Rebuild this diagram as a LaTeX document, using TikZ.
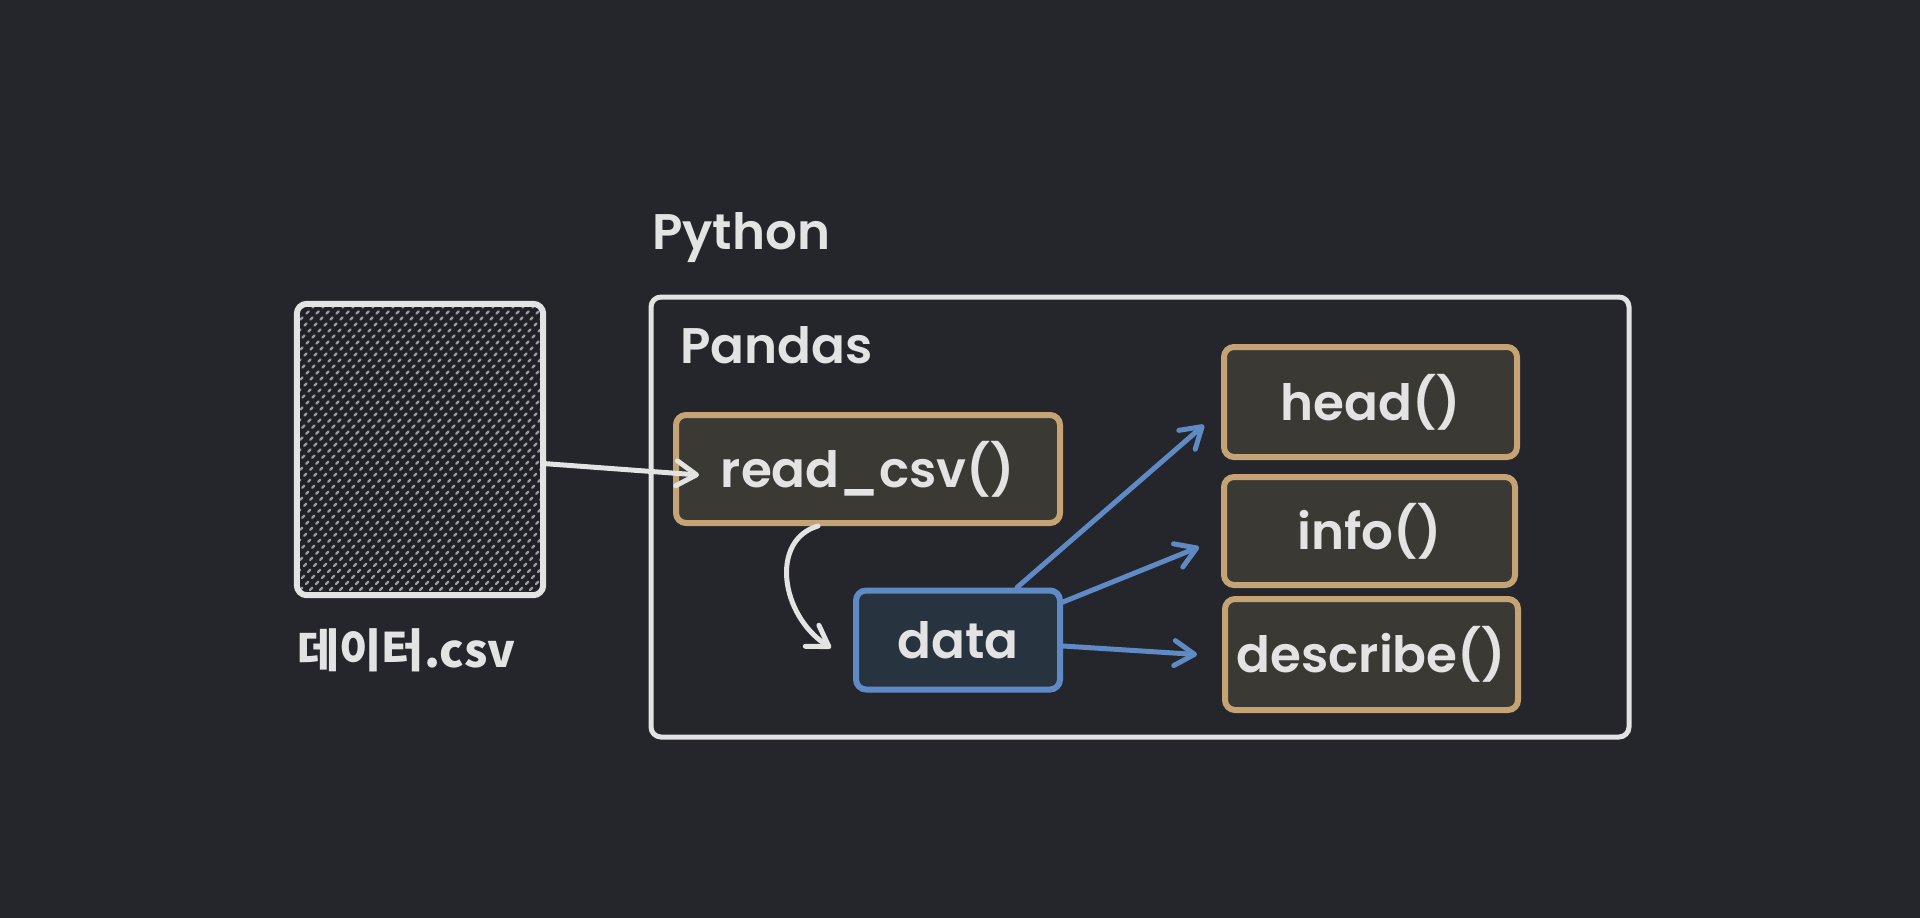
\documentclass[tikz,border=0pt]{standalone}
\usepackage{fontspec}
\setmainfont{Poppins}[BoldFont={Poppins SemiBold}]
\newfontfamily\krfont{Noto Sans CJK KR}
\usetikzlibrary{arrows.meta,calc,positioning}
\definecolor{bgdark}{HTML}{25262B}
\definecolor{ink}{HTML}{E3E3E3}
\definecolor{tanline}{HTML}{C6A374}
\definecolor{fnfill}{HTML}{3B3934}
\definecolor{blueline}{HTML}{5F8AC6}
\definecolor{datafill}{HTML}{283340}
\definecolor{filefill}{HTML}{202127}
\definecolor{hatchc}{HTML}{9A9B9E}

\tikzset{
  lbl/.style={text=ink, inner sep=0pt, font=\bfseries\fontsize{50}{56}\selectfont},
  fnbox/.style={draw=tanline, fill=fnfill, line width=6pt, rounded corners=10pt,
    inner sep=0pt, text=ink, font=\bfseries\fontsize{50}{56}\selectfont},
  databox/.style={fnbox, draw=blueline, fill=datafill},
  envbox/.style={draw=ink, line width=5pt, rounded corners=10pt, inner sep=0pt},
  flow/.style={draw=ink, line width=5pt, line cap=round,
    -{Straight Barb[length=20pt, width=25pt, round]}},
  flowb/.style={flow, draw=blueline}
}

\begin{document}
\begin{tikzpicture}[x=1pt, y=-1pt]
  \useasboundingbox[fill=bgdark] (0,0) rectangle (1920,918);

  % the csv file
  \node[fill=filefill, rounded corners=10pt, minimum width=246pt, minimum height=291pt] (csv) at (420,449.5) {};
  \begin{scope}
    \clip[rounded corners=8pt] (csv.south west) rectangle (csv.north east);
    \foreach \c in {-40,-30,...,560}
      \draw[hatchc, line width=2.4pt, line cap=round, dash pattern=on 3pt off 5.5pt] (\c,620) -- ++(360,-360);
  \end{scope}
  \draw[ink, line width=6pt, rounded corners=10pt] (csv.south west) rectangle (csv.north east);
  \node[lbl, anchor=base west, font=\krfont\bfseries\fontsize{46}{52}\selectfont] (csvname) at (297,667) {데이터.csv};

  % python / pandas
  \node[lbl, anchor=base west] (python) at (652,249) {Python};
  \node[envbox, minimum width=978pt, minimum height=440pt] (pandasenv) at (1140,517) {};
  \node[lbl, anchor=base west] (pandas) at (680,363) {Pandas};

  \node[fnbox, minimum width=384pt, minimum height=108pt] (read) at (868,469) {read\_csv()};
  \node[databox, minimum width=204pt, minimum height=99pt] (data) at (958,640) {data};
  \node[fnbox, minimum width=293pt, minimum height=110pt] (head) at (1370.5,402) {head()};
  \node[fnbox, minimum width=291pt, minimum height=108pt] (info) at (1369.5,531) {info()};
  \node[fnbox, minimum width=293pt, minimum height=111pt] (describe) at (1371.5,654.5) {describe()};

  % connectors
  \draw[flow] ($(csv.east)+(0,14)$) -- ($(read.west)+(26,6)$);
  \draw[flow] ($(read.south)+(-50,0)$) .. controls (770,540) and (780,615) .. ($(data.west)+(-22,8)$);
  \draw[flowb] ($(data.north)+(59,0)$) -- ($(head.west)+(-17,23)$);
  \draw[flowb] ($(data.east)+(0,-38)$) -- ($(info.west)+(-22,16)$);
  \draw[flowb] ($(data.east)+(0,6)$) -- ($(describe.west)+(-25,0)$);
\end{tikzpicture}
\end{document}
